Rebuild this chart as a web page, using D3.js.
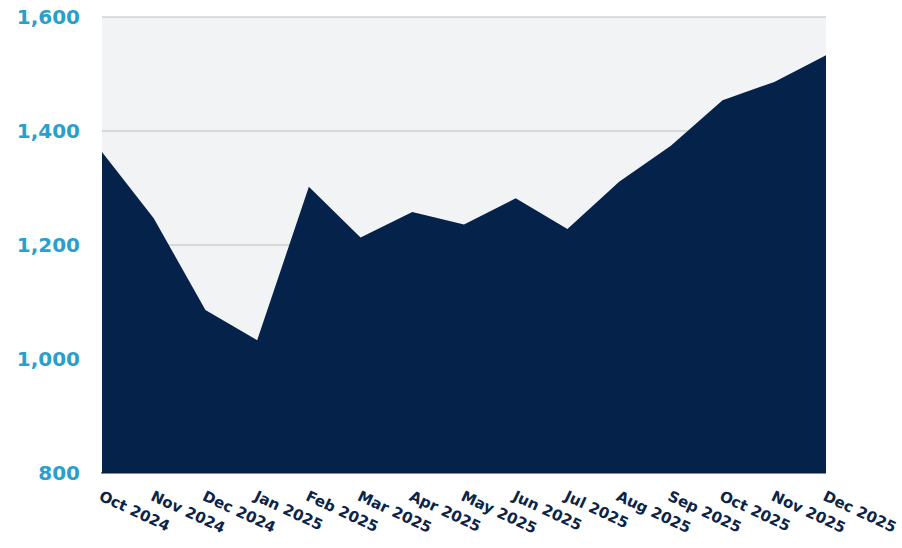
<!DOCTYPE html>
<html><head><meta charset="utf-8">
<script src="https://cdn.jsdelivr.net/npm/d3@7"></script>
<style>body{margin:0;background:#fff}svg{display:block}</style>
</head><body>
<svg id="c" width="902" height="548"></svg>
<script>
const months = ["Oct 2024","Nov 2024","Dec 2024","Jan 2025","Feb 2025","Mar 2025","Apr 2025","May 2025","Jun 2025","Jul 2025","Aug 2025","Sep 2025","Oct 2025","Nov 2025","Dec 2025"];
const values = [1363,1247,1086,1033,1302,1213,1258,1236,1282,1228,1311,1374,1454,1486,1533];
const yTicks = [800,1000,1200,1400,1600];

const svg = d3.select("#c");
const m = {l:102, r:76, t:17, b:75};
const W = 902, H = 548;
const x = d3.scalePoint().domain(months).range([m.l, W - m.r]);
const y = d3.scaleLinear().domain([800,1600]).range([H - m.b, m.t]);

svg.append("rect").attr("x", m.l).attr("y", m.t)
  .attr("width", W - m.r - m.l).attr("height", H - m.b - m.t).attr("fill", "#f2f3f5");

svg.append("g").selectAll("line").data(yTicks.slice(1)).join("line")
  .attr("x1", m.l).attr("x2", W - m.r)
  .attr("y1", d => y(d)).attr("y2", d => y(d))
  .attr("stroke", "#bdbdbf").attr("stroke-width", 1);

const area = d3.area().x((d,i) => x(months[i])).y0(y(800)).y1(d => y(d));
svg.append("path").datum(values).attr("d", area).attr("fill", "#05234a");

svg.append("line").attr("x1", m.l - 1).attr("x2", W - m.r).attr("y1", y(800)).attr("y2", y(800))
  .attr("stroke", "#0a1a30").attr("stroke-width", 1);

const yAxis = d3.axisLeft(y).tickValues(yTicks).tickFormat(d3.format(",")).tickSize(0).tickPadding(22);
const gy = svg.append("g").attr("transform", `translate(${m.l},0)`).call(yAxis);
gy.select(".domain").remove();
gy.selectAll("text").attr("fill", "#2a9fcd").attr("font-family", "'DejaVu Sans', sans-serif")
  .attr("font-weight", "bold").attr("font-size", 20);

const xAxis = d3.axisBottom(x).tickSize(0).tickPadding(0);
const gx = svg.append("g").attr("transform", `translate(0,${y(800)})`).call(xAxis);
gx.select(".domain").remove();
gx.selectAll("text").attr("fill", "#0c2447").attr("font-family", "'DejaVu Sans', sans-serif")
  .attr("font-weight", "bold").attr("font-size", 15)
  .attr("text-anchor", "start").attr("dy", "0.71em")
  .attr("transform", "translate(0,17) rotate(25)");
</script>
</body></html>
